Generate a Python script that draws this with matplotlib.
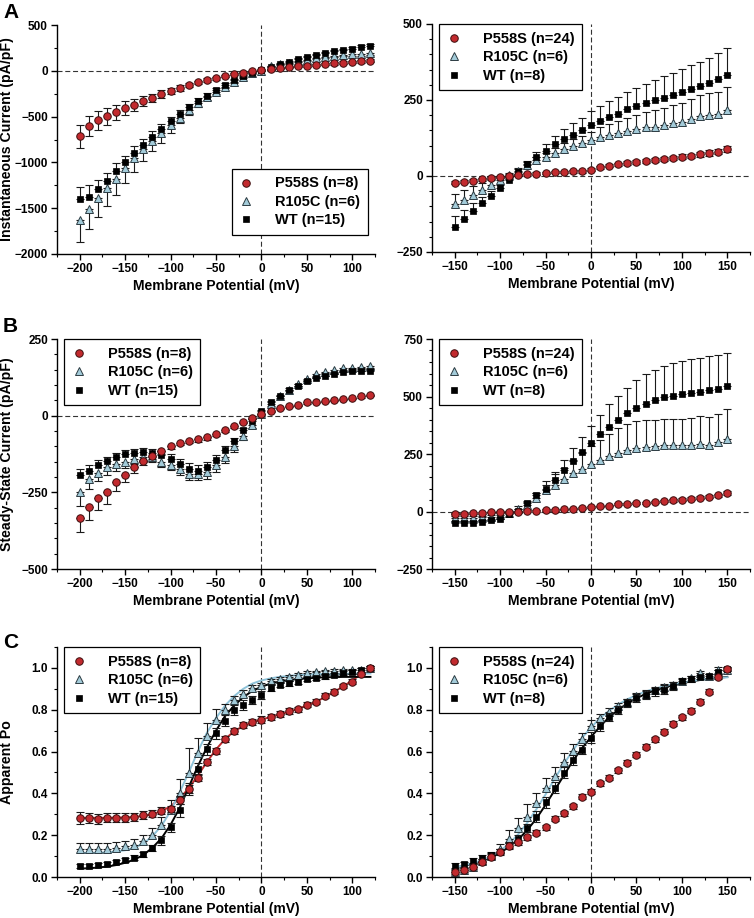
import matplotlib
matplotlib.use("Agg")
import matplotlib.pyplot as plt
from matplotlib.ticker import MultipleLocator

plt.rcParams['font.family'] = ['Liberation Sans', 'DejaVu Sans']
plt.rcParams['font.weight'] = 'bold'
plt.rcParams['axes.labelweight'] = 'bold'

# membrane potentials (mV)
v_left = [-200, -190, -180, -170, -160, -150, -140, -130, -120, -110, -100, -90, -80,
          -70, -60, -50, -40, -30, -20, -10, 0, 10, 20, 30, 40, 50, 60, 70, 80, 90,
          100, 110, 120]
v_right = [-150, -140, -130, -120, -110, -100, -90, -80, -70, -60, -50, -40, -30, -20,
           -10, 0, 10, 20, 30, 40, 50, 60, 70, 80, 90, 100, 110, 120, 130, 140, 150]

# A, left: instantaneous current (pA/pF)
a_l_p558s = [-715, -603, -541, -497, -453, -406, -370, -326, -293, -253, -221, -188, -155,
             -126, -100, -82, -57, -35, -20, -6, 5, 15, 27, 38, 47, 56, 65, 73, 81, 89,
             96, 103, 109]
a_l_p558s_err = [125, 110, 100, 90, 85, 75, 65, 55, 45, 40, 35, 30, 25, 20, 18, 15, 12,
                 10, 8, 6, 5, 6, 7, 8, 9, 10, 11, 12, 13, 14, 15, 16, 17]
a_l_r105c = [-1629, -1509, -1392, -1276, -1178, -1065, -956, -857, -766, -683, -595, -512,
             -430, -355, -290, -228, -173, -118, -64, -27, 0, 51, 69, 87, 102, 117, 135,
             151, 161, 173, 180, 183, 191]
a_l_r105c_err = [237, 222, 207, 195, 180, 160, 150, 133, 115, 100, 80, 62, 55, 40, 30, 25,
                 20, 15, 10, 8, 5, 6, 7, 8, 9, 10, 11, 12, 13, 14, 15, 16, 17]
a_l_wt = [-1403, -1374, -1294, -1199, -1094, -999, -901, -810, -719, -632, -552, -472,
          -399, -333, -271, -210, -158, -104, -57, -20, 10, 44, 73, 98, 124, 146, 172,
          194, 212, 227, 242, 260, 275]
a_l_wt_err = [138, 127, 100, 87, 84, 70, 75, 70, 60, 55, 50, 45, 40, 35, 30, 25, 20, 15,
              12, 10, 8, 8, 9, 10, 11, 12, 13, 14, 15, 16, 17, 18, 19]

# A, right
a_r_p558s = [-22, -19, -15, -11, -7, -3, 1, 3, 5, 8, 10, 13, 14, 15, 16, 20, 28, 33, 38,
             42, 46, 49, 52, 56, 59, 64, 66, 71, 75, 80, 89]
a_r_p558s_err = [5, 5, 5, 5, 4, 4, 4, 4, 4, 4, 4, 4, 4, 5, 5, 5, 5, 5, 6, 6, 6, 6, 7, 7,
                 7, 8, 8, 8, 9, 9, 10]
a_r_r105c = [-93, -79, -62, -46, -29, -13, 2, 18, 37, 53, 64, 77, 89, 100, 108, 118, 129,
             136, 142, 149, 155, 160, 162, 168, 175, 178, 187, 197, 200, 204, 217]
a_r_r105c_err = [33, 33, 28, 22, 15, 10, 8, 8, 8, 10, 12, 15, 18, 22, 25, 28, 32, 35, 38,
                 42, 47, 51, 55, 55, 57, 61, 66, 68, 72, 72, 75]
a_r_wt = [-169, -143, -115, -90, -65, -41, -14, 14, 38, 61, 81, 104, 121, 136, 150, 167,
          181, 193, 205, 219, 230, 241, 249, 258, 266, 277, 286, 296, 306, 320, 332]
a_r_wt_err = [38, 30, 25, 20, 15, 12, 10, 10, 10, 18, 24, 28, 33, 38, 42, 47, 50, 53, 56,
              58, 60, 63, 67, 70, 73, 76, 78, 80, 82, 85, 88]

# B, left: steady-state current (pA/pF)
b_l_p558s = [-334, -298, -269, -250, -217, -192, -168, -147, -130, -114, -99, -88, -81,
             -77, -71, -60, -46, -34, -20, -7, 4, 16, 26, 32, 36, 43, 46, 49, 51, 55, 59,
             64, 69]
b_l_p558s_err = [46, 41, 38, 37, 30, 25, 19, 15, 12, 10, 9, 8, 8, 8, 7, 7, 6, 6, 5, 5, 5,
                 4, 4, 4, 4, 4, 4, 4, 4, 5, 5, 5, 5]
b_l_r105c = [-249, -206, -186, -168, -157, -150, -140, -135, -135, -150, -161, -175, -189,
             -189, -184, -161, -134, -99, -66, -31, 7, 37, 64, 84, 102, 119, 135, 144, 149,
             155, 157, 159, 162]
b_l_r105c_err = [44, 33, 27, 24, 22, 20, 18, 15, 15, 16, 17, 20, 22, 22, 22, 22, 20, 18,
                 12, 8, 5, 5, 5, 5, 5, 5, 5, 5, 5, 5, 5, 5, 5]
b_l_wt = [-194, -179, -162, -149, -135, -126, -121, -117, -121, -127, -141, -157, -173,
          -179, -168, -143, -113, -82, -48, -17, 15, 43, 63, 84, 97, 112, 122, 130, 135,
          141, 145, 146, 147]
b_l_wt_err = [21, 17, 16, 15, 14, 13, 12, 12, 12, 12, 15, 17, 18, 18, 17, 15, 13, 10, 8,
              6, 5, 5, 5, 5, 5, 5, 5, 5, 5, 5, 5, 5, 5]

# B, right
b_r_p558s = [-10, -9, -7, -6, -3, -1, 0, 0, 2, 3, 6, 7, 9, 12, 15, 19, 22, 26, 31, 32, 36,
             38, 42, 45, 48, 52, 55, 60, 65, 71, 79]
b_r_p558s_err = [3, 3, 3, 3, 3, 3, 3, 3, 3, 3, 3, 3, 3, 3, 3, 4, 4, 4, 4, 4, 4, 5, 5, 5,
                 5, 5, 6, 6, 6, 7, 8]
b_r_r105c = [-29, -29, -29, -26, -22, -15, -5, 12, 28, 60, 95, 114, 141, 166, 186, 207,
             226, 240, 253, 266, 275, 281, 285, 288, 290, 290, 291, 294, 290, 304, 316]
b_r_r105c_err = [8, 8, 8, 8, 8, 8, 8, 10, 12, 20, 36, 47, 48, 60, 68, 77, 87, 99, 112,
                 116, 118, 116, 115, 115, 114, 114, 115, 121, 122, 122, 131]
b_r_wt = [-48, -48, -48, -45, -39, -32, -13, 4, 36, 70, 98, 138, 182, 221, 258, 298, 335,
          368, 399, 427, 450, 469, 485, 497, 504, 511, 517, 521, 527, 534, 547]
b_r_wt_err = [8, 8, 8, 8, 8, 8, 8, 8, 10, 12, 19, 32, 41, 54, 66, 73, 86, 98, 103, 112,
              122, 128, 132, 137, 141, 144, 146, 146, 147, 146, 140]

# C, left: apparent Po
c_l_p558s = [0.282, 0.282, 0.279, 0.284, 0.284, 0.284, 0.287, 0.297, 0.303, 0.317, 0.325,
             0.368, 0.42, 0.475, 0.55, 0.603, 0.659, 0.70, 0.727, 0.74, 0.753, 0.767,
             0.778, 0.794, 0.802, 0.823, 0.839, 0.868, 0.887, 0.912, 0.935, 0.97, 0.998]
c_l_p558s_err = [0.028, 0.025, 0.024, 0.02, 0.02, 0.02, 0.018, 0.018, 0.016, 0.016, 0.016,
                 0.018, 0.018, 0.018, 0.016, 0.016, 0.015, 0.015, 0.015, 0.015, 0.015,
                 0.014, 0.014, 0.013, 0.013, 0.012, 0.012, 0.011, 0.011, 0.01, 0.01, 0.01,
                 0.01]
c_l_p558s_fit = [0.283, 0.283, 0.283, 0.283, 0.284, 0.285, 0.287, 0.292, 0.3, 0.315, 0.338,
                 0.375, 0.425, 0.485, 0.55, 0.61, 0.66, 0.697, 0.722, 0.74, 0.753, 0.765,
                 0.777, 0.79, 0.804, 0.82, 0.838, 0.86, 0.885, 0.912, 0.94, 0.972]
c_l_r105c = [0.136, 0.136, 0.136, 0.136, 0.141, 0.147, 0.152, 0.17, 0.203, 0.248, 0.32,
             0.4, 0.496, 0.595, 0.675, 0.752, 0.797, 0.848, 0.877, 0.904, 0.92, 0.936,
             0.947, 0.957, 0.968, 0.976, 0.979, 0.984, 0.987, 0.989, 0.989, 0.992, 1.0]
c_l_r105c_err = [0.025, 0.025, 0.025, 0.025, 0.025, 0.027, 0.028, 0.03, 0.03, 0.04, 0.05,
                 0.07, 0.12, 0.07, 0.06, 0.05, 0.03, 0.02, 0.015, 0.012, 0.01, 0.01, 0.01,
                 0.008, 0.008, 0.008, 0.008, 0.008, 0.008, 0.008, 0.008, 0.008, 0.008]
c_l_r105c_fit = [0.115, 0.115, 0.116, 0.118, 0.122, 0.128, 0.14, 0.16, 0.195, 0.245, 0.315,
                 0.405, 0.5, 0.6, 0.69, 0.76, 0.82, 0.865, 0.9, 0.925, 0.94, 0.95, 0.957,
                 0.962, 0.965, 0.968, 0.97, 0.971, 0.972, 0.972, 0.973, 0.973, 0.973]
c_l_wt = [0.051, 0.053, 0.057, 0.064, 0.073, 0.081, 0.093, 0.108, 0.137, 0.175, 0.238,
          0.319, 0.421, 0.517, 0.61, 0.687, 0.748, 0.80, 0.823, 0.847, 0.871, 0.906, 0.919,
          0.927, 0.935, 0.946, 0.952, 0.959, 0.966, 0.974, 0.982, 0.989, 0.998]
c_l_wt_err = [0.01, 0.01, 0.01, 0.01, 0.01, 0.01, 0.01, 0.012, 0.015, 0.02, 0.022, 0.03,
              0.03, 0.03, 0.028, 0.025, 0.025, 0.025, 0.022, 0.02, 0.02, 0.015, 0.012,
              0.012, 0.01, 0.01, 0.01, 0.01, 0.01, 0.01, 0.01, 0.01, 0.01]
c_l_wt_fit = [0.04, 0.042, 0.045, 0.05, 0.057, 0.068, 0.083, 0.105, 0.14, 0.185, 0.25, 0.33,
              0.43, 0.53, 0.62, 0.7, 0.77, 0.82, 0.86, 0.89, 0.91, 0.925, 0.935, 0.942,
              0.947, 0.95, 0.953, 0.955, 0.956, 0.957, 0.957, 0.957, 0.957]

# C, right
c_r_p558s = [0.026, 0.034, 0.05, 0.073, 0.096, 0.121, 0.15, 0.166, 0.19, 0.212, 0.239,
             0.278, 0.305, 0.338, 0.383, 0.407, 0.448, 0.475, 0.51, 0.547, 0.584, 0.624,
             0.659, 0.695, 0.732, 0.764, 0.796, 0.839, 0.887, 0.955, 0.995]
c_r_p558s_err = [0.01, 0.01, 0.01, 0.012, 0.012, 0.012, 0.012, 0.012, 0.012, 0.012, 0.012,
                 0.012, 0.012, 0.012, 0.012, 0.012, 0.012, 0.012, 0.012, 0.012, 0.012,
                 0.012, 0.012, 0.012, 0.012, 0.012, 0.012, 0.012, 0.01, 0.01, 0.01]
c_r_r105c = [0.025, 0.035, 0.05, 0.075, 0.1, 0.136, 0.184, 0.232, 0.288, 0.352, 0.424,
             0.485, 0.552, 0.605, 0.659, 0.72, 0.76, 0.787, 0.816, 0.837, 0.864, 0.877,
             0.893, 0.909, 0.92, 0.939, 0.952, 0.976, 0.963, 0.992, 0.99]
c_r_r105c_err = [0.01, 0.01, 0.01, 0.012, 0.015, 0.02, 0.04, 0.05, 0.06, 0.05, 0.05, 0.04,
                 0.04, 0.03, 0.03, 0.03, 0.02, 0.02, 0.015, 0.015, 0.015, 0.012, 0.012,
                 0.012, 0.012, 0.01, 0.01, 0.01, 0.01, 0.01, 0.01]
c_r_r105c_fit = [0.045, 0.055, 0.066, 0.08, 0.1, 0.125, 0.16, 0.205, 0.26, 0.325, 0.395,
                 0.47, 0.54, 0.605, 0.665, 0.715, 0.76, 0.795, 0.825, 0.85, 0.87, 0.887,
                 0.9, 0.912, 0.922, 0.93, 0.937, 0.943, 0.948, 0.952, 0.955]
c_r_wt = [0.054, 0.062, 0.077, 0.089, 0.105, 0.121, 0.15, 0.182, 0.233, 0.289, 0.357,
          0.427, 0.499, 0.56, 0.609, 0.667, 0.72, 0.765, 0.8, 0.832, 0.856, 0.872, 0.888,
          0.896, 0.915, 0.939, 0.947, 0.957, 0.963, 0.979, 0.995]
c_r_wt_err = [0.012, 0.012, 0.012, 0.015, 0.015, 0.015, 0.018, 0.02, 0.02, 0.025, 0.025,
              0.025, 0.025, 0.025, 0.02, 0.025, 0.02, 0.02, 0.02, 0.02, 0.02, 0.02, 0.02,
              0.02, 0.02, 0.012, 0.012, 0.01, 0.01, 0.01, 0.01]
c_r_wt_fit = [0.045, 0.053, 0.063, 0.076, 0.093, 0.115, 0.145, 0.18, 0.225, 0.28, 0.345,
              0.415, 0.485, 0.555, 0.615, 0.67, 0.72, 0.765, 0.8, 0.83, 0.855, 0.875, 0.892,
              0.905, 0.917, 0.927, 0.935, 0.942, 0.948, 0.953, 0.957]

RED = '#c22a2e'
BLUE = '#a3cbd9'
BLUE_LINE = '#8fc3d9'

STYLE = {
    'P558S': dict(marker='o', ms=5.4, mfc=RED, mec='#3b0d0d', mew=0.7, zorder=5),
    'R105C': dict(marker='^', ms=5.4, mfc=BLUE, mec='#2c3b42', mew=0.7, zorder=3),
    'WT': dict(marker='s', ms=4.8, mfc='black', mec='black', mew=0.5, zorder=4),
}


def draw_panel(ax, volts, series, ylim, ymajor, yminor, xlim, xticks, legend_loc,
               zero_line=True, fits=()):
    for vf, yf, col in fits:
        ax.plot(vf, yf, color=col, lw=1.4, zorder=2.5)
    for name, label, y, err, direction in series:
        lo = [e if direction in ('both', 'down') else 0 for e in err]
        hi = [e if direction in ('both', 'up') else 0 for e in err]
        ax.errorbar(volts, y, yerr=[lo, hi], fmt='none', ecolor='#1a1a1a',
                    elinewidth=0.8, capsize=2.6, capthick=0.8,
                    zorder=STYLE[name]['zorder'] - 0.5)
    handles = []
    for name, label, y, err, direction in series:
        h, = ax.plot(volts, y, ls='none', label=label, **STYLE[name])
        handles.append(h)
    if zero_line:
        ax.axhline(0, color='#333333', lw=0.8, dashes=(4.5, 2.5), zorder=1)
    ax.axvline(0, color='#333333', lw=0.8, dashes=(4.5, 2.5), zorder=1)
    ax.set_xlim(xlim)
    ax.set_ylim(ylim)
    ax.set_xticks(xticks)
    ax.xaxis.set_minor_locator(MultipleLocator(25))
    ax.yaxis.set_major_locator(MultipleLocator(ymajor))
    ax.yaxis.set_minor_locator(MultipleLocator(yminor))
    for s in ('top', 'right'):
        ax.spines[s].set_visible(False)
    for s in ('left', 'bottom'):
        ax.spines[s].set_linewidth(1.0)
    ax.tick_params(which='major', direction='out', length=4, width=1, labelsize=8.5,
                   pad=2.5)
    ax.tick_params(which='minor', direction='out', length=2, width=0.8)
    for t in ax.get_xticklabels() + ax.get_yticklabels():
        t.set_fontweight('bold')
    ax.set_xlabel('Membrane Potential (mV)', fontsize=10, fontweight='bold')
    ax.xaxis.set_label_coords(0.5, -0.11)
    if legend_loc == 'lower right':
        leg = ax.legend(handles=handles, loc='lower right', bbox_to_anchor=(0.978, 0.083),
                        borderaxespad=0)
    else:
        leg = ax.legend(handles=handles, loc='upper left', bbox_to_anchor=(0.022, 1.0),
                        borderaxespad=0)
    leg.get_frame().set_edgecolor('black')
    leg.get_frame().set_linewidth(0.9)
    leg.get_frame().set_boxstyle('square', pad=0)
    leg.get_frame().set_alpha(1)
    for t in leg.get_texts():
        t.set_fontsize(10.5)
        t.set_fontweight('bold')


plt.rcParams['legend.handlelength'] = 1.0
plt.rcParams['legend.handletextpad'] = 1.6
plt.rcParams['legend.borderpad'] = 0.55
plt.rcParams['legend.labelspacing'] = 0.32
plt.rcParams['legend.fancybox'] = False

fig = plt.figure(figsize=(7.54, 9.18), dpi=100)
W, H = 754.0, 918.0


def add_axes(x0, x1, y0, y1):
    return fig.add_axes([x0 / W, 1 - y1 / H, (x1 - x0) / W, (y1 - y0) / H])


ax_al = add_axes(57, 375, 25, 254)
ax_ar = add_axes(432, 750, 24, 252)
ax_bl = add_axes(57, 375, 339, 569)
ax_br = add_axes(432, 750, 339, 569)
ax_cl = add_axes(57, 375, 647, 877)
ax_cr = add_axes(432, 750, 647, 877)

xt_left = [-200, -150, -100, -50, 0, 50, 100]
xt_right = [-150, -100, -50, 0, 50, 100, 150]

draw_panel(ax_al, v_left,
           [('P558S', 'P558S (n=8)', a_l_p558s, a_l_p558s_err, 'both'),
            ('R105C', 'R105C (n=6)', a_l_r105c, a_l_r105c_err, 'down'),
            ('WT', 'WT (n=15)', a_l_wt, a_l_wt_err, 'up')],
           (-2000, 500), 500, 250, (-225, 125), xt_left, 'lower right')
draw_panel(ax_ar, v_right,
           [('P558S', 'P558S (n=24)', a_r_p558s, a_r_p558s_err, 'both'),
            ('R105C', 'R105C (n=6)', a_r_r105c, a_r_r105c_err, 'up'),
            ('WT', 'WT (n=8)', a_r_wt, a_r_wt_err, 'up')],
           (-250, 500), 250, 50, (-175, 175), xt_right, 'upper left')
draw_panel(ax_bl, v_left,
           [('P558S', 'P558S (n=8)', b_l_p558s, b_l_p558s_err, 'down'),
            ('R105C', 'R105C (n=6)', b_l_r105c, b_l_r105c_err, 'down'),
            ('WT', 'WT (n=15)', b_l_wt, b_l_wt_err, 'up')],
           (-500, 250), 250, 50, (-225, 125), xt_left, 'upper left')
draw_panel(ax_br, v_right,
           [('P558S', 'P558S (n=24)', b_r_p558s, b_r_p558s_err, 'both'),
            ('R105C', 'R105C (n=6)', b_r_r105c, b_r_r105c_err, 'up'),
            ('WT', 'WT (n=8)', b_r_wt, b_r_wt_err, 'up')],
           (-250, 750), 250, 50, (-175, 175), xt_right, 'upper left')
draw_panel(ax_cl, v_left,
           [('P558S', 'P558S (n=8)', c_l_p558s, c_l_p558s_err, 'both'),
            ('R105C', 'R105C (n=6)', c_l_r105c, c_l_r105c_err, 'up'),
            ('WT', 'WT (n=15)', c_l_wt, c_l_wt_err, 'both')],
           (0, 1.1), 0.2, 0.1, (-225, 125), xt_left, 'upper left', zero_line=False,
           fits=[(v_left[:len(c_l_p558s_fit)], c_l_p558s_fit, RED),
                 (v_left, c_l_wt_fit, 'black'),
                 (v_left, c_l_r105c_fit, BLUE_LINE)])
draw_panel(ax_cr, v_right,
           [('P558S', 'P558S (n=24)', c_r_p558s, c_r_p558s_err, 'both'),
            ('R105C', 'R105C (n=6)', c_r_r105c, c_r_r105c_err, 'up'),
            ('WT', 'WT (n=8)', c_r_wt, c_r_wt_err, 'both')],
           (0, 1.1), 0.2, 0.1, (-175, 175), xt_right, 'upper left', zero_line=False,
           fits=[(v_right, c_r_wt_fit, 'black'),
                 (v_right, c_r_r105c_fit, BLUE_LINE)])

for ax in (ax_cl, ax_cr):
    ax.set_yticks([0.0, 0.2, 0.4, 0.6, 0.8, 1.0])
    ax.set_yticklabels(['0.0', '0.2', '0.4', '0.6', '0.8', '1.0'], fontweight='bold')

ax_al.set_ylabel('Instantaneous Current (pA/pF)', fontsize=10.2, fontweight='bold')
ax_bl.set_ylabel('Steady-State Current (pA/pF)', fontsize=10.2, fontweight='bold')
ax_cl.set_ylabel('Apparent Po', fontsize=10.2, fontweight='bold')
for ax in (ax_al, ax_bl, ax_cl):
    ax.yaxis.set_label_coords(-0.135, 0.5)

for letter, ypix in (('A', 12), ('B', 326), ('C', 643)):
    fig.text(3 / W, 1 - ypix / H, letter, fontsize=15, fontweight='bold', va='center',
             ha='left')

fig.savefig('out.png', dpi=100)
